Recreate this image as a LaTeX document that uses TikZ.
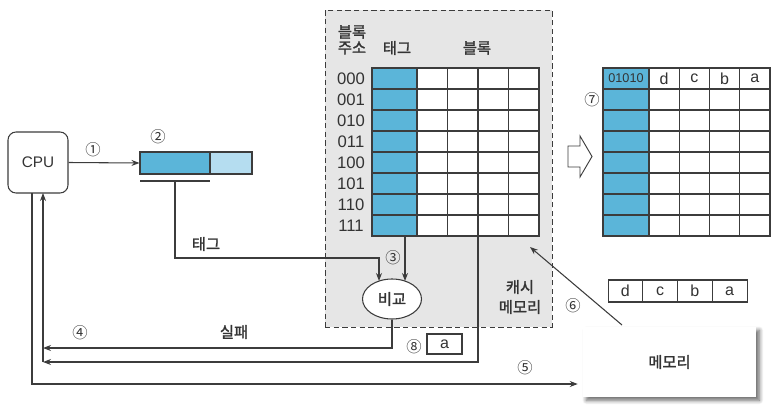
\documentclass[tikz,border=0pt]{standalone}
\usepackage{fontspec}
\setmainfont{Liberation Sans}
\newfontfamily\kr[FakeBold=1.5]{Noto Sans CJK KR}
\newfontfamily\krn{Noto Sans CJK KR}
\usetikzlibrary{shapes.geometric,arrows.meta,shadows.blur}
\definecolor{tagblue}{HTML}{5BB5D9}
\definecolor{lightblue}{HTML}{B5DDF0}
\definecolor{cachegray}{HTML}{E6E6E6}
\definecolor{linegray}{HTML}{3C3C3C}
\definecolor{txt}{HTML}{333333}
\begin{document}
\begin{tikzpicture}[x=0.75pt,y=-0.75pt,
  font=\fontsize{12}{14}\selectfont,
  every node/.style={text=txt},
  ln/.style={draw=linegray, line width=0.8pt},
  arr/.style={ln, -{Stealth[length=6pt,width=4.5pt]}},
  cell/.style={draw=linegray, line width=0.8pt, inner sep=0pt, minimum height=15.75pt},
  tagcell/.style={cell, fill=tagblue, minimum width=33.75pt},
  datacell/.style={cell, fill=white, minimum width=22.875pt},
  rtagcell/.style={cell, fill=tagblue, minimum width=34.5pt},
  rdatacell/.style={cell, fill=white, minimum width=22.69pt},
  num/.style={font=\krn\fontsize{11.5}{13}\selectfont, text=txt},
  krlabel/.style={font=\kr\fontsize{11.5}{13}\selectfont, text=txt, align=center, inner sep=0pt}
]
\useasboundingbox (0,0) rectangle (780,410);

% cache region
\node[draw=linegray, dashed, dash pattern=on 4pt off 2.5pt, line width=0.7pt, fill=cachegray,
  minimum width=170.25pt, minimum height=237.75pt, inner sep=0pt] (cache) at (438.5,168.5) {};

% CPU
\node[draw=linegray, line width=0.8pt, rounded corners=6pt, minimum width=45pt, minimum height=45.75pt,
  font=\fontsize{11.5}{14}\selectfont] (cpu) at (38,162.5) {CPU};
\coordinate (cpub1) at (32,193);
\coordinate (cpub2) at (43,193);

% register
\node[draw=linegray, line width=0.8pt, fill=tagblue, minimum width=52.5pt, minimum height=16.5pt, inner sep=0pt] (reg1) at (175,163) {};
\node[draw=linegray, line width=0.8pt, fill=lightblue, minimum width=31.5pt, minimum height=16.5pt, inner sep=0pt] (reg2) at (231,163) {};
\coordinate (ulL) at (140,181);
\coordinate (ulR) at (210,181);
\coordinate (ulM) at (175,181);
\draw[ln] (ulL) -- (ulR);
\node[num] (n1) at (93,150) {①};
\node[num] (n2) at (158,137) {②};
\draw[arr] (cpu.east) -- (reg1.west);

% cache headers
\node[krlabel] (hblk) at (352,32) {블록};
\node[krlabel] (haddr) at (352,48) {주소};
\node[krlabel] (htag) at (397,48) {태그};
\node[krlabel] (hblock) at (477,48) {블록};

% cache grid
\foreach \i/\lab in {0/000,1/001,2/010,3/011,4/100,5/101,6/110,7/111} {
  \node[tagcell] (t\i) at (394.5,78.5+21*\i) {};
  \foreach \j in {0,...,3} {
    \node[datacell] (d\i\j) at (432.25+30.5*\j,78.5+21*\i) {};
  }
  \node[font=\fontsize{12.5}{14}\selectfont, inner sep=0pt] (a\i) at (351,78.5+21*\i) {\lab};
}

% compare
\node[ellipse, draw=linegray, line width=0.8pt, fill=white, minimum width=44.25pt, minimum height=30pt, inner sep=0pt,
  font=\kr\fontsize{11.5}{13}\selectfont] (cmp) at (392,299) {비교};
\coordinate (tagin) at (379,281);
\coordinate (tagdown) at (405,281);
\coordinate (tagbot) at (405,236);
\coordinate (blkbot) at (478,236);
\draw[arr] (ulM) |- (379,258) -- (tagin);
\draw[arr] (tagbot) -- (tagdown);
\node[num] (n3) at (393,258) {③};
\node[krlabel] (tagl) at (206,244) {태그};
\node[krlabel] (cachel) at (520,297) {캐시\\[2pt]메모리};

% fail paths
\coordinate (ret1) at (43,348);
\coordinate (ret2) at (43,362);
\draw[arr] (cmp.south) |- (ret1);
\draw[arr] (blkbot) |- (ret2);
\draw[arr] (ret2) -- (cpub2);
\node[num] (n4) at (80,333) {④};
\node[krlabel] (faill) at (234,332) {실패};
\node[num] (n8) at (414,347) {⑧};
\node[draw=linegray, line width=0.8pt, fill=white, minimum width=26.25pt, minimum height=15pt, inner sep=0pt] (abox) at (444.5,344) {a};

% memory
\node[draw=none, fill=white, minimum width=129.75pt, minimum height=52.5pt,
  blur shadow={shadow xshift=2.5pt, shadow yshift=-2.5pt, shadow blur steps=8, shadow blur radius=3pt, shadow opacity=60},
  font=\kr\fontsize{11.5}{13}\selectfont] (mem) at (669.5,362) {메모리};
\draw[arr] (cpub1) |- ($(mem.west)+(-5,22)$);
\node[num] (n5) at (525,368) {⑤};
\coordinate (memtop) at (622,325);
\coordinate (cachein) at (530,247);
\draw[arr] (memtop) -- (cachein);
\node[num] (n6) at (573,306) {⑥};

% dcba line
\foreach \c/\k in {d/0,c/1,b/2,a/3} {
  \node[cell, fill=white, minimum width=26.06pt, minimum height=16.5pt] (m\k) at (625.4+34.75*\k,291) {\c};
}

% hollow arrow
\draw[ln, line width=0.7pt, fill=white] (568,146) -- (580,146) -- (580,136) -- (592,156.5) -- (580,177) -- (580,167) -- (568,167) -- cycle;

% right grid
\foreach \i in {0,...,7} {
  \node[rtagcell] (rt\i) at (626,78.5+21*\i) {};
  \foreach \j in {0,...,3} {
    \node[rdatacell] (rd\i\j) at (664.1+30.25*\j,78.5+21*\i) {};
  }
}
\node[font=\fontsize{9.5}{10}\selectfont, inner sep=0pt] (tagval) at (rt0) {01010};
\node[inner sep=0pt] at (rd00) {d};
\node[inner sep=0pt] at (rd01) {c};
\node[inner sep=0pt] at (rd02) {b};
\node[inner sep=0pt] at (rd03) {a};
\node[num] (n7) at (592,100) {⑦};
\end{tikzpicture}
\end{document}
